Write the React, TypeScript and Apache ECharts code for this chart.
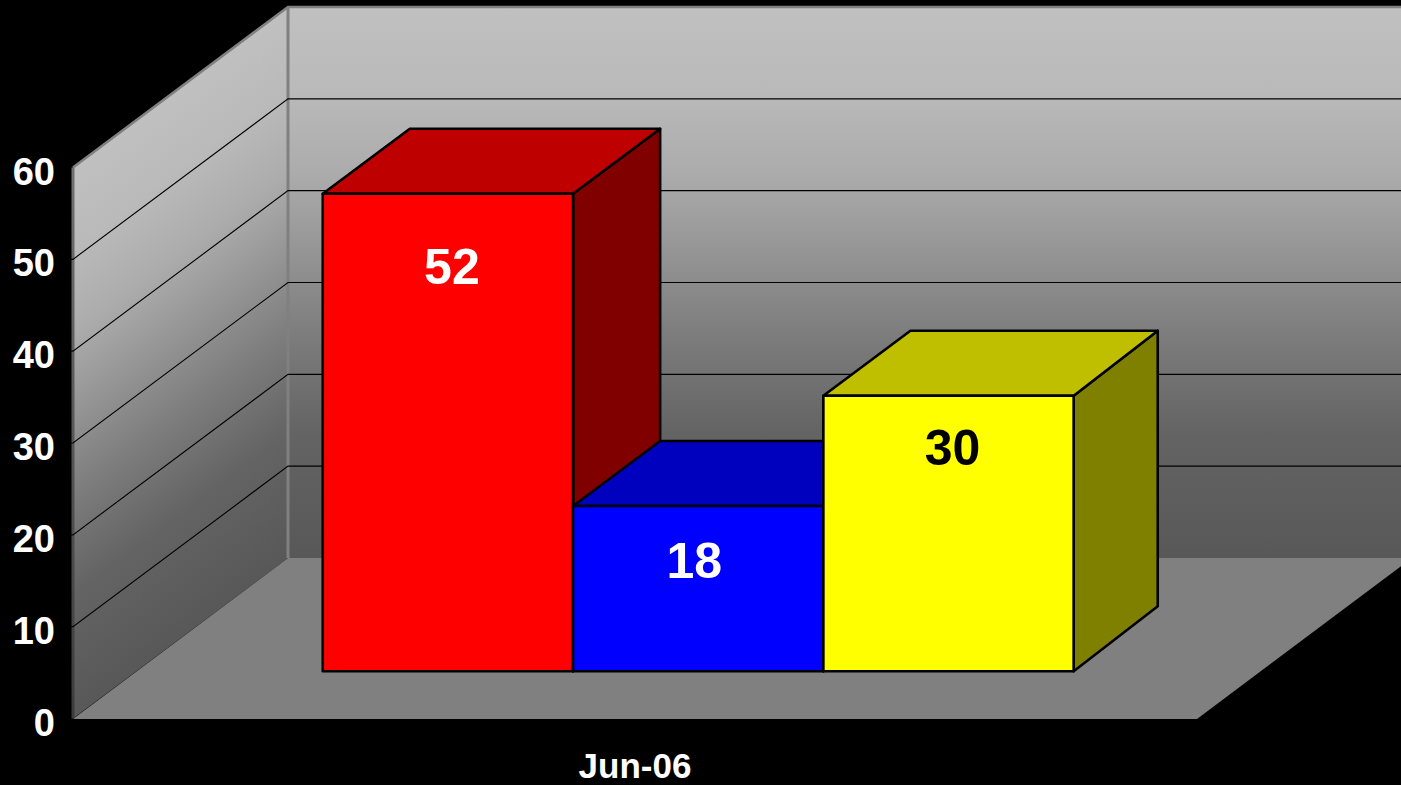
import React, { useEffect, useRef } from "react";
import * as echarts from "echarts";

const categories = ["Jun-06"];
const seriesNames = ["Red", "Blue", "Yellow"];
const seriesValues = [52, 18, 30];
const wallRange = [0, 60];
const gridValues = [10, 20, 30, 40, 50];

const frontColors = ["#ff0000", "#0000ff", "#ffff00"];
const topColors = ["#bf0000", "#0000bf", "#bfbf00"];
const sideColors = ["#800000", "#000080", "#808000"];
const labelColors = ["#ffffff", "#ffffff", "#000000"];
const labelShiftX = [4, -4, 4];
const labelShiftY = [73, 55, 52];
const backRightTrim = [0, 0, -3];

const FONT = '"Liberation Sans", Arial, sans-serif';
const DEPTH_X = 215;
const DEPTH_Y = 160.5;
const BAR_FRONT = 0.294;
const BAR_BACK = 0.405;
const BAR_WIDTH_RATIO = 250.3 / 1124;

const wallStops = [
  { offset: 0, color: "#c0c0c0" },
  { offset: 0.15, color: "#bababa" },
  { offset: 0.3, color: "#acacac" },
  { offset: 0.45, color: "#949494" },
  { offset: 0.6, color: "#7c7c7c" },
  { offset: 0.77, color: "#646464" },
  { offset: 1, color: "#585858" },
];

function renderFrame(_params: any, api: any) {
  const cx = api.coord([0, 0])[0];
  const bw = api.size([1, 0])[0];
  const left = cx - bw / 2;
  const right = cx + bw / 2;
  const y0 = api.coord([0, api.value(0)])[1];
  const y1 = api.coord([0, api.value(1)])[1];
  const len = DEPTH_X * DEPTH_X + DEPTH_Y * DEPTH_Y;
  const t = ((y0 - y1) * DEPTH_X) / len;
  const leftFill = new echarts.graphic.LinearGradient(
    left,
    y1,
    left + t * DEPTH_Y,
    y1 + t * DEPTH_X,
    wallStops,
    true
  );
  const backFill = new echarts.graphic.LinearGradient(0, 0, 0, 1, wallStops);
  const axisFill = new echarts.graphic.LinearGradient(0, 0, 0, 1, [
    { offset: 0, color: "#707070" },
    { offset: 1, color: "#3c3c3c" },
  ]);
  return {
    type: "group",
    silent: true,
    children: [
      {
        type: "polygon",
        shape: {
          points: [
            [left + DEPTH_X, y1 - DEPTH_Y],
            [right + DEPTH_X, y1 - DEPTH_Y],
            [right + DEPTH_X, y0 - DEPTH_Y],
            [left + DEPTH_X, y0 - DEPTH_Y],
          ],
        },
        style: { fill: backFill },
      },
      {
        type: "polygon",
        shape: {
          points: [
            [left, y1],
            [left + DEPTH_X, y1 - DEPTH_Y],
            [left + DEPTH_X, y0 - DEPTH_Y],
            [left, y0],
          ],
        },
        style: { fill: leftFill },
      },
      {
        type: "polygon",
        shape: {
          points: [
            [left, y0 + 0.5],
            [right, y0 + 0.5],
            [right + DEPTH_X, y0 - DEPTH_Y],
            [left + DEPTH_X, y0 - DEPTH_Y],
          ],
        },
        style: { fill: "#808080" },
      },
      {
        type: "polyline",
        shape: {
          points: [
            [left, y1],
            [left + DEPTH_X, y1 - DEPTH_Y],
            [right + DEPTH_X, y1 - DEPTH_Y],
          ],
        },
        style: { fill: "none", stroke: "#808080", lineWidth: 2.5 },
      },
      {
        type: "line",
        shape: {
          x1: left + DEPTH_X,
          y1: y1 - DEPTH_Y,
          x2: left + DEPTH_X,
          y2: y0 - DEPTH_Y,
        },
        style: { stroke: "#808080", lineWidth: 3 },
      },
      {
        type: "rect",
        shape: { x: left - 1.5, y: y1, width: 3, height: y0 - y1 },
        style: { fill: axisFill },
      },
    ],
  };
}

function renderGridLine(_params: any, api: any) {
  const p = api.coord([0, api.value(0)]);
  const bw = api.size([1, 0])[0];
  const left = p[0] - bw / 2;
  const right = p[0] + bw / 2;
  return {
    type: "polyline",
    silent: true,
    shape: {
      points: [
        [left - 3, p[1]],
        [left, p[1]],
        [left + DEPTH_X, p[1] - DEPTH_Y],
        [right + DEPTH_X, p[1] - DEPTH_Y],
      ],
    },
    style: { fill: "none", stroke: "#000000", lineWidth: 1.1 },
  };
}

function renderBar(params: any, api: any) {
  const i = params.dataIndex;
  const v = api.value(1);
  const base = api.coord([0, 0]);
  const top = api.coord([0, v]);
  const bw = api.size([1, 0])[0];
  const w = bw * BAR_WIDTH_RATIO;
  const dx = DEPTH_X * BAR_FRONT;
  const dy = DEPTH_Y * BAR_FRONT;
  const ddx = DEPTH_X * BAR_BACK;
  const ddy = DEPTH_Y * BAR_BACK;
  const xl = base[0] + dx + (i - 1.5) * w;
  const xr = xl + w;
  const xrBack = xr + ddx + backRightTrim[i];
  const yb = base[1] - dy;
  const yt = top[1] - dy;
  const stroke = { stroke: "#000000", lineWidth: 2.6, lineJoin: "round" };
  return {
    type: "group",
    children: [
      {
        type: "polygon",
        shape: {
          points: [
            [xr, yt],
            [xrBack, yt - ddy],
            [xrBack, yb - ddy],
            [xr, yb],
          ],
        },
        style: { fill: sideColors[i], ...stroke },
      },
      {
        type: "polygon",
        shape: {
          points: [
            [xl, yt],
            [xl + ddx, yt - ddy],
            [xrBack, yt - ddy],
            [xr, yt],
          ],
        },
        style: { fill: topColors[i], ...stroke },
      },
      {
        type: "rect",
        shape: { x: xl, y: yt, width: w, height: yb - yt },
        style: { fill: frontColors[i], ...stroke },
      },
      {
        type: "text",
        x: (xl + xr) / 2 + labelShiftX[i],
        y: yt + labelShiftY[i],
        style: {
          text: String(v),
          fill: labelColors[i],
          font: `bold 50px ${FONT}`,
          align: "center",
          verticalAlign: "middle",
        },
      },
    ],
  };
}

export default function App() {
  const ref = useRef<HTMLDivElement>(null);
  useEffect(() => {
    document.body.style.margin = "0";
    document.body.style.background = "#000";
    const chart = echarts.init(ref.current!, undefined, { renderer: "svg" });
    chart.setOption({
      animation: false,
      backgroundColor: "#000000",
      grid: { left: 73, top: 167.5, width: 1124, height: 551, containLabel: false },
      xAxis: {
        type: "category",
        data: categories,
        axisLine: { show: false },
        axisTick: { show: false },
        axisLabel: {
          color: "#ffffff",
          fontFamily: FONT,
          fontWeight: "bold",
          fontSize: 35,
          lineHeight: 30,
          margin: 32,
        },
      },
      yAxis: {
        type: "value",
        min: 0,
        max: 60,
        interval: 10,
        axisLine: { show: false },
        axisTick: { show: false },
        splitLine: { show: false },
        axisLabel: {
          color: "#ffffff",
          fontFamily: FONT,
          fontWeight: "bold",
          fontSize: 38,
          margin: 18,
          verticalAlign: "top",
          lineHeight: 8,
        },
      },
      series: [
        {
          type: "custom",
          name: "walls",
          coordinateSystem: "cartesian2d",
          renderItem: renderFrame,
          encode: { y: 0 },
          data: [wallRange],
          silent: true,
          clip: false,
          z: 1,
        },
        {
          type: "custom",
          name: "gridlines",
          coordinateSystem: "cartesian2d",
          renderItem: renderGridLine,
          encode: { y: 0 },
          data: gridValues.map((v) => [v]),
          silent: true,
          clip: false,
          z: 2,
        },
        {
          type: "custom",
          name: "bars",
          coordinateSystem: "cartesian2d",
          renderItem: renderBar,
          encode: { x: 0, y: 1 },
          data: seriesValues.map((v, i) => ({ name: seriesNames[i], value: [0, v] })),
          clip: false,
          z: 3,
        },
      ],
    });
    return () => chart.dispose();
  }, []);
  return <div ref={ref} style={{ width: 1401, height: 785 }} />;
}
